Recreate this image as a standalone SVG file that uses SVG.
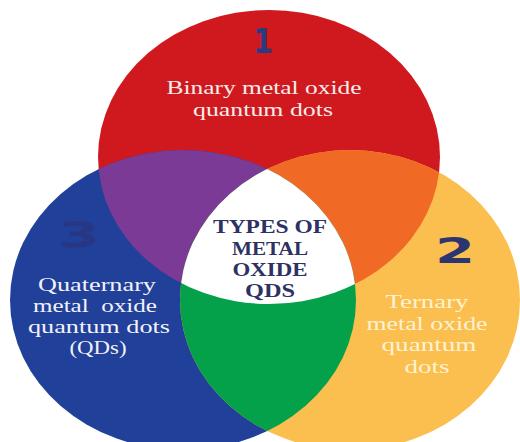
<svg xmlns="http://www.w3.org/2000/svg" width="520" height="442" viewBox="0 0 520 442">
  <style>
    .lbl { font-family: "Liberation Serif", "Times New Roman", serif; font-size: 19px; text-anchor: middle; }
    .ctr { font-family: "Liberation Serif", "Times New Roman", serif; font-size: 19px; font-weight: bold; fill: #2E3163; text-anchor: middle; }
    .num { font-family: "DejaVu Sans", "Liberation Sans", sans-serif; font-weight: bold; text-anchor: middle; }
  </style>
  <defs>
    <clipPath id="clipRed"><ellipse cx="269" cy="157" rx="171" ry="147"/></clipPath>
    <clipPath id="clipBlue"><ellipse cx="183" cy="300" rx="173" ry="150"/></clipPath>
  </defs>
  <rect x="0" y="0" width="520" height="442" fill="#FFFFFF"/>

  <g id="set-binary">
    <ellipse cx="269" cy="157" rx="171" ry="147" fill="#D0191F"/>
  </g>
  <g id="set-quaternary">
    <ellipse cx="183" cy="300" rx="173" ry="150" fill="#21409A"/>
  </g>
  <g id="set-ternary">
    <ellipse cx="350" cy="300" rx="170" ry="150" fill="#FBBF50"/>
  </g>

  <g id="overlaps">
    <ellipse cx="183" cy="300" rx="173" ry="150" fill="#7A3A96" clip-path="url(#clipRed)"/>
    <ellipse cx="350" cy="300" rx="170" ry="150" fill="#F06A25" clip-path="url(#clipRed)"/>
    <ellipse cx="350" cy="300" rx="170" ry="150" fill="#05A04A" clip-path="url(#clipBlue)"/>
  </g>

  <g id="center">
    <g clip-path="url(#clipBlue)">
      <ellipse cx="350" cy="300" rx="170" ry="150" fill="#FFFFFF" clip-path="url(#clipRed)"/>
    </g>
    <text class="ctr" x="270" y="233" textLength="114" lengthAdjust="spacingAndGlyphs">TYPES OF</text>
    <text class="ctr" x="270" y="255" textLength="76" lengthAdjust="spacingAndGlyphs">METAL</text>
    <text class="ctr" x="270" y="276" textLength="75" lengthAdjust="spacingAndGlyphs">OXIDE</text>
    <text class="ctr" x="270" y="297" textLength="50" lengthAdjust="spacingAndGlyphs">QDS</text>
  </g>

  <g id="label-binary">
    <text class="num" x="263" y="53" font-size="34" fill="#2B3A7E" textLength="20" lengthAdjust="spacingAndGlyphs">1</text>
    <text class="lbl" x="264" y="94" fill="#F7ECEA" textLength="195" lengthAdjust="spacingAndGlyphs">Binary metal oxide</text>
    <text class="lbl" x="263" y="116" fill="#F7ECEA" textLength="140" lengthAdjust="spacingAndGlyphs">quantum dots</text>
  </g>

  <g id="label-ternary">
    <text class="num" x="455" y="263" font-size="36" fill="#2C3570" textLength="40" lengthAdjust="spacingAndGlyphs">2</text>
    <text class="lbl" x="427" y="308" fill="#FFF2D2" textLength="83" lengthAdjust="spacingAndGlyphs">Ternary</text>
    <text class="lbl" x="427" y="330" fill="#FFF2D2" textLength="121" lengthAdjust="spacingAndGlyphs">metal oxide</text>
    <text class="lbl" x="429" y="351" fill="#FFF2D2" textLength="95" lengthAdjust="spacingAndGlyphs">quantum</text>
    <text class="lbl" x="427" y="373" fill="#FFF2D2" textLength="45" lengthAdjust="spacingAndGlyphs">dots</text>
  </g>

  <g id="label-quaternary">
    <text class="num" x="79" y="247" font-size="36" fill="#2A3680" opacity="0.8" textLength="42" lengthAdjust="spacingAndGlyphs">3</text>
    <text class="lbl" x="97" y="291" fill="#F2F2F7" textLength="118" lengthAdjust="spacingAndGlyphs">Quaternary</text>
    <text class="lbl" x="95" y="312" fill="#F2F2F7" xml:space="preserve" textLength="124" lengthAdjust="spacingAndGlyphs">metal  oxide</text>
    <text class="lbl" x="99" y="333" fill="#F2F2F7" textLength="142" lengthAdjust="spacingAndGlyphs">quantum dots</text>
    <text class="lbl" x="98" y="354" fill="#F2F2F7" textLength="57" lengthAdjust="spacingAndGlyphs">(QDs)</text>
  </g>
</svg>
